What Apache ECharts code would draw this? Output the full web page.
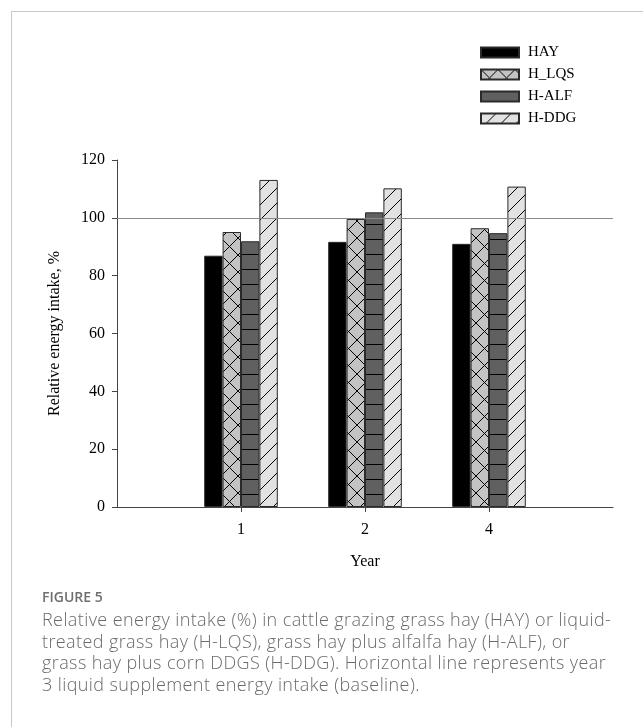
<!DOCTYPE html>
<html>
<head>
<meta charset="utf-8">
<script src="https://cdn.jsdelivr.net/npm/echarts@6/dist/echarts.min.js"></script>
<style>
	html, body { margin: 0; padding: 0; background: #fff; }
	#frame { position: absolute; left: 11px; top: 11px; width: 640px; height: 720px; border-left: 1px solid #c8c8c8; border-top: 1px solid #c8c8c8; }
	#main { position: absolute; left: 0; top: 0; width: 643px; height: 727px; }
	#caption { position: absolute; left: 42px; top: 588px; width: 600px; font-family: "Open Sans", sans-serif; color: #6a6a6a; white-space: nowrap; }
	#caption .fig { font-size: 14px; font-weight: 600; line-height: 18px; color: #6e6e6e; margin-bottom: 3px; }
	#caption .txt { font-size: 18px; line-height: 21.5px; letter-spacing: 0.4px; font-weight: 300; }
</style>
</head>
<body>
<div id="frame"></div>
<div id="main"></div>
<div id="caption">
	<div class="fig">FIGURE 5</div>
	<div class="txt">Relative energy intake (%) in cattle grazing grass hay (HAY) or liquid-<br>treated grass hay (H-LQS), grass hay plus alfalfa hay (H-ALF), or<br>grass hay plus corn DDGS (H-DDG). Horizontal line represents year<br>3 liquid supplement energy intake (baseline).</div>
</div>
<script>
var year_list = ['1', '2', '4'];
var series_names = ['HAY', 'H_LQS', 'H-ALF', 'H-DDG'];
var hay_data = [86.9, 91.7, 91.0];
var h_lqs_data = [95.1, 99.6, 96.4];
var h_alf_data = [91.9, 101.9, 94.7];
var h_ddg_data = [113.1, 110.2, 110.8];
var baseline_value = 100;

var serif_font = '"Liberation Serif", "Times New Roman", serif';

function make_pattern(w, h, bg, draw){
	var c = document.createElement('canvas');
	c.width = w;
	c.height = h;
	var ctx = c.getContext('2d');
	ctx.fillStyle = bg;
	ctx.fillRect(0, 0, w, h);
	ctx.strokeStyle = '#000';
	ctx.lineWidth = 1;
	draw(ctx, w, h);
	return {image: c, repeat: 'repeat'};
}

// cross hatch for H_LQS
var cross_pattern = make_pattern(17, 17, '#c3c3c3', function(ctx, w, h){
	ctx.beginPath();
	ctx.moveTo(-1, -1); ctx.lineTo(w + 1, h + 1);
	ctx.moveTo(-1, h + 1); ctx.lineTo(w + 1, -1);
	ctx.stroke();
});
// horizontal lines for H-ALF
var hline_pattern = make_pattern(8, 15, '#606060', function(ctx, w, h){
	ctx.beginPath();
	ctx.moveTo(0, h - 0.5); ctx.lineTo(w, h - 0.5);
	ctx.stroke();
});
// forward diagonal for H-DDG
var diag_pattern = make_pattern(15, 15, '#e2e2e2', function(ctx, w, h){
	ctx.beginPath();
	for(var k = -1; k <= 1; k++){
		ctx.moveTo(k * w, h); ctx.lineTo(k * w + w, 0);
	}
	ctx.stroke();
});

function pad_data(arr){
	return ['-'].concat(arr).concat(['-']);
}

function chart_energy_intake(){
	var chart = echarts.init(document.getElementById('main'));
	var x_categories = [''].concat(year_list).concat(['']);
	var fills = ['#000000', cross_pattern, hline_pattern, diag_pattern];
	var values = [hay_data, h_lqs_data, h_alf_data, h_ddg_data];
	var bar_series = new Array();
	for(var i = 0; i < series_names.length; i++){
		var temp_obj = {
			name: series_names[i],
			type: 'bar',
			barWidth: 18.4,
			barGap: '0%',
			data: pad_data(values[i]),
			itemStyle: {
				color: fills[i],
				borderColor: '#2a2a2a',
				borderWidth: 1
			},
			emphasis: {disabled: true}
		};
		if(i == series_names.length - 1){
			temp_obj.markLine = {
				silent: true,
				symbol: ['none', 'none'],
				label: {show: false},
				lineStyle: {color: '#8a8a8a', type: 'solid', width: 1.2},
				data: [{yAxis: baseline_value}]
			};
		}
		bar_series[i] = temp_obj;
	}
	var option = {
		animation: false,
		legend: {
			data: series_names,
			orient: 'vertical',
			left: 480,
			top: 45,
			padding: 0,
			icon: 'rect',
			itemWidth: 38,
			itemHeight: 10,
			itemGap: 7,
			textStyle: {fontFamily: serif_font, fontSize: 15, lineHeight: 15, color: '#000', padding: [0, 0, 0, 4]}
		},
		grid: {
			left: 117,
			right: 30,
			top: 160,
			bottom: 220
		},
		xAxis: {
			type: 'category',
			boundaryGap: false,
			data: x_categories,
			name: 'Year',
			nameLocation: 'middle',
			nameGap: 47,
			nameTextStyle: {fontFamily: serif_font, fontSize: 16, color: '#000'},
			axisLine: {lineStyle: {color: '#444', width: 1}},
			axisTick: {
				length: 5,
				interval: function(index){ return index >= 1 && index <= year_list.length; },
				lineStyle: {color: '#444'}
			},
			axisLabel: {margin: 15, fontFamily: serif_font, fontSize: 16, color: '#000', interval: 0},
			splitLine: {show: false}
		},
		yAxis: {
			type: 'value',
			min: 0,
			max: 120,
			interval: 20,
			name: 'Relative energy intake, %',
			nameLocation: 'middle',
			nameGap: 54,
			nameTextStyle: {fontFamily: serif_font, fontSize: 16, color: '#000'},
			axisLine: {show: true, lineStyle: {color: '#444', width: 1}},
			axisTick: {show: true, length: 5, lineStyle: {color: '#444'}},
			axisLabel: {margin: 12, fontFamily: serif_font, fontSize: 16, color: '#000'},
			splitLine: {show: false}
		},
		series: bar_series
	};
	chart.setOption(option);
	window.addEventListener("resize", function(){
		chart.resize();
	});
}

chart_energy_intake();
</script>
</body>
</html>
